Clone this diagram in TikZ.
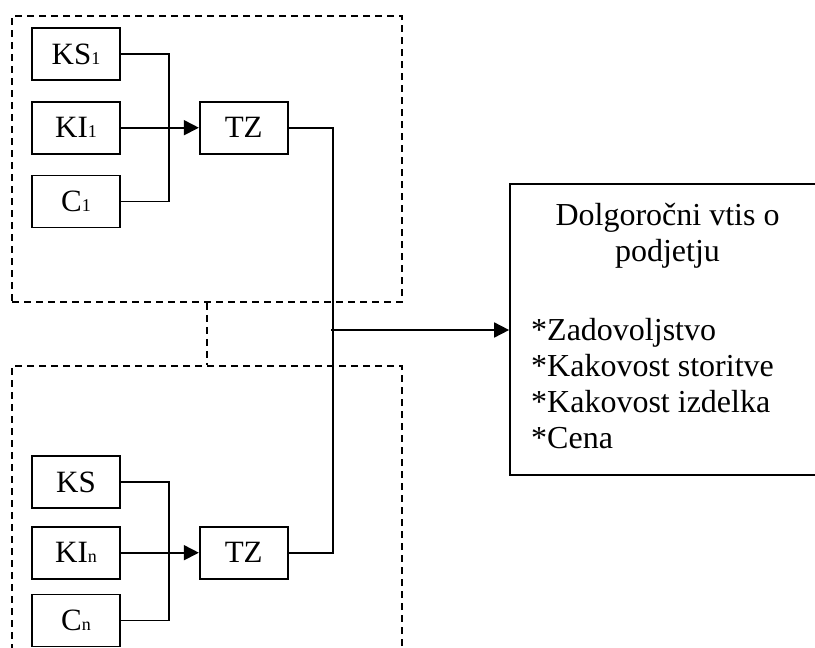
\documentclass[tikz,border=0pt]{standalone}
\usepackage{fontspec}
\setmainfont{Liberation Serif}
\usetikzlibrary{arrows.meta, positioning}

\newcommand{\idx}[1]{{\fontsize{18}{18}\selectfont #1}}

\begin{document}
\begin{tikzpicture}[
    x=1pt, y=-1pt,
    node distance=20pt and 78pt,
    kotak/.style={draw, line width=1.7pt, minimum width=88pt, minimum height=52pt,
                  inner sep=0pt, font=\fontsize{31}{36}\selectfont},
    grup/.style={draw, line width=1.5pt, dash pattern=on 7pt off 5pt, inner sep=0pt},
    teks/.style={font=\fontsize{32}{36}\selectfont, inner sep=0pt},
    garis/.style={line width=1.7pt},
    panah/.style={-{Triangle[length=15pt, width=15pt]}, line width=1.7pt}
  ]
    \useasboundingbox (0,0) rectangle (815,648);
    \clip (0,0) rectangle (815,648);

    \node[grup, minimum width=390pt, minimum height=286pt] (grup1) at (207,159) {};
    \node[grup, minimum width=390pt, minimum height=334pt] (grupn) at (207,533) {};
    \draw[grup] (grup1.south) -- (grupn.north);

    \node[kotak] (ks1) at (76,54) {KS\idx{1}};
    \node[kotak, below=of ks1] (ki1) {KI\idx{1}};
    \node[kotak, below=of ki1] (c1) {C\idx{1}};
    \node[kotak, right=of ki1] (tz1) {TZ};

    \node[kotak] (ksn) at (76,482) {KS};
    \node[kotak, below=17pt of ksn] (kin) {KI\idx{n}};
    \node[kotak, below=14pt of kin] (cn) {C\idx{n}};
    \node[kotak, right=of kin] (tzn) {TZ};

    \draw[garis] (ks1.east) -- ++(48,0) |- (c1.east);
    \draw[panah] (ki1) -- (tz1);
    \draw[garis] (ksn.east) -- ++(48,0) |- (cn.east);
    \draw[panah] (kin) -- (tzn);

    \node[draw, line width=1.7pt, minimum width=315pt, minimum height=291pt] (vtis) at (667.5,329.5) {};
    \node[teks, align=center, below=20pt of vtis.north] (naslov) {Dolgoročni vtis o\\podjetju};
    \node[teks, align=left, anchor=west] (lastnosti) at (531,384)
      {*Zadovoljstvo\\*Kakovost storitve\\*Kakovost izdelka\\*Cena};

    \coordinate (sambung) at (333,330);
    \draw[garis] (tz1.east) -| (sambung) |- (tzn.east);
    \draw[panah] ([xshift=-2pt]sambung) -- (vtis.west |- sambung);
\end{tikzpicture}
\end{document}
